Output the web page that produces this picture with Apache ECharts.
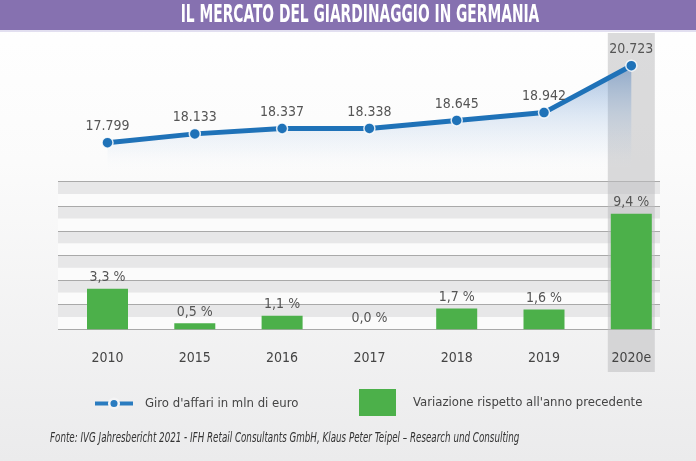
<!DOCTYPE html>
<html>
<head>
<meta charset="utf-8">
<script src="https://cdn.jsdelivr.net/npm/echarts@6/dist/echarts.min.js"></script>
<style>html,body{margin:0;padding:0;}#c{width:696px;height:461px;}</style>
</head>
<body>
<div id="c"></div>
<script>
const categories = ['2010', '2015', '2016', '2017', '2018', '2019', '2020e'];
const turnover = [17799, 18133, 18337, 18338, 18645, 18942, 20723];
const changePct = [3.3, 0.5, 1.1, 0.0, 1.7, 1.6, 9.4];
const highlight = [null, null, null, null, null, null, 1];
const titleText = 'IL MERCATO DEL GIARDINAGGIO IN GERMANIA';
const lineName = "Giro d'affari in mln di euro";
const barName = "Variazione rispetto all'anno precedente";
const sourceText = 'Fonte: IVG Jahresbericht 2021 - IFH Retail Consultants GmbH, Klaus Peter Teipel – Research und Consulting';

const FONT = '"DejaVu Sans Condensed", "Liberation Sans Narrow", sans-serif';
const chart = echarts.init(document.getElementById('c'), null, {renderer: 'canvas'});
const L = 63.85, R = 21.05;
const option = {
  animation: false,
  backgroundColor: new echarts.graphic.LinearGradient(0, 0, 0, 1, [
    {offset: 0, color: '#ffffff'}, {offset: 0.35, color: '#fbfbfb'}, {offset: 1, color: '#ebebec'}
  ]),
  textStyle: {fontFamily: FONT},
  graphic: [
    {type: 'rect', left: 0, top: 0, shape: {width: 696, height: 30}, style: {fill: '#8671b0'}, z: 10},
    {type: 'rect', left: 0, top: 30, shape: {width: 696, height: 2}, style: {fill: '#e2dff0'}, z: 10},
    {type: 'text', x: 360, y: 16, scaleX: 0.64, z: 11,
      style: {text: titleText, fill: '#ffffff', font: 'bold 24px ' + FONT, align: 'center', verticalAlign: 'middle'}},
    {type: 'text', x: 50, y: 438, scaleX: 0.72, z: 11,
      style: {text: sourceText, fill: '#333333', font: 'italic 13.5px ' + FONT, align: 'left', verticalAlign: 'middle'}}
  ],
  legend: [
    {data: [lineName], left: 93, top: 397, itemWidth: 38, itemHeight: 12, padding: 0,
      lineStyle: {width: 4, color: '#2a7cc0'},
      itemStyle: {color: '#2a7cc0', borderColor: '#f4f4f5', borderWidth: 2.5},
      textStyle: {color: '#444', fontSize: 13, fontFamily: FONT, padding: [0, 0, 0, 7]}},
    {data: [{name: barName, icon: 'rect'}], left: 359, top: 389, itemWidth: 37, itemHeight: 27, padding: 0,
      textStyle: {color: '#444', fontSize: 13, fontFamily: FONT, padding: [0, 0, 0, 12]}}
  ],
  grid: [
    {left: L, right: R, top: 58.4, bottom: 289.4},
    {left: L, right: R, top: 181.7, bottom: 131.7},
    {left: 58, right: 36, top: 181.7, bottom: 131.7},
    {left: L, right: R, top: 33, bottom: 89}
  ],
  xAxis: [
    {type: 'category', data: categories, gridIndex: 0, show: false},
    {type: 'category', data: categories, gridIndex: 1, axisLine: {show: false}, axisTick: {show: false}, z: 10,
      axisLabel: {color: '#444', fontSize: 14, fontFamily: FONT, margin: 22}},
    {type: 'value', gridIndex: 2, show: false},
    {type: 'category', data: categories, gridIndex: 3, show: false}
  ],
  yAxis: [
    {type: 'value', gridIndex: 0, min: 16700, max: 21000, show: false},
    {type: 'value', gridIndex: 1, min: 0, max: 12, interval: 2, show: false},
    {type: 'value', gridIndex: 2, min: 0, max: 12, interval: 1, axisLine: {show: false}, axisTick: {show: false},
      axisLabel: {show: false}, splitLine: {show: false},
      splitArea: {show: true, areaStyle: {color: ['rgba(251,251,251,1)', 'rgba(231,231,232,1)']}}},
    {type: 'value', gridIndex: 2, min: 0, max: 12, interval: 2, axisLine: {show: false}, axisTick: {show: false},
      axisLabel: {show: false}, splitLine: {show: true, lineStyle: {color: '#a9a9a9', width: 1}}},
    {type: 'value', gridIndex: 3, min: 0, max: 1, show: false}
  ],
  series: [
    {type: 'bar', xAxisIndex: 3, yAxisIndex: 4, data: highlight, barWidth: 47, z: 1, silent: true,
      itemStyle: {color: 'rgba(190,190,192,0.55)'}},
    {name: lineName, type: 'line', xAxisIndex: 0, yAxisIndex: 0, data: turnover, z: 5,
      symbol: 'circle', symbolSize: 11,
      lineStyle: {color: '#1f72b8', width: 5},
      itemStyle: {color: '#1f72b8', borderColor: 'rgba(255,255,255,0.85)', borderWidth: 1.5},
      areaStyle: {origin: 'start', color: new echarts.graphic.LinearGradient(0, 0, 0, 1, [
        {offset: 0, color: 'rgba(40,100,175,0.6)'}, {offset: 0.45, color: 'rgba(100,150,210,0.3)'},
        {offset: 0.8, color: 'rgba(150,185,225,0.1)'}, {offset: 1, color: 'rgba(255,255,255,0)'}
      ])},
      label: {show: true, position: 'top', distance: 3, color: '#555', fontSize: 14, fontFamily: FONT,
        formatter: p => (p.value / 1000).toFixed(3)}},
    {name: barName, type: 'bar', xAxisIndex: 1, yAxisIndex: 1, data: changePct, barWidth: 41, z: 5,
      itemStyle: {color: '#4cb04a'},
      label: {show: true, position: 'top', distance: 4, color: '#555', fontSize: 14, fontFamily: FONT,
        formatter: p => p.value.toFixed(1).replace('.', ',') + ' %'}}
  ]
};
chart.setOption(option);
</script>
</body>
</html>
